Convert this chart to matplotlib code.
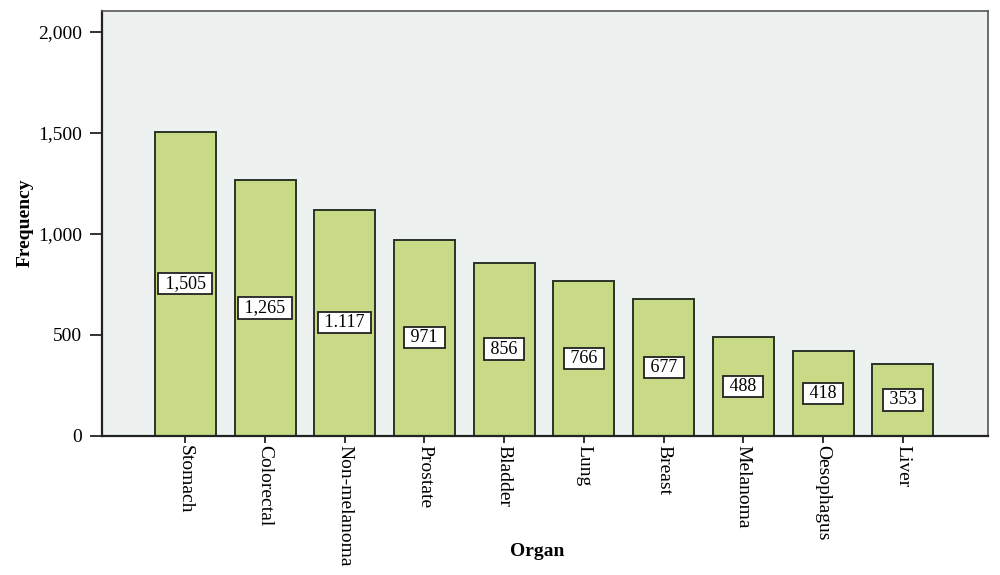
import matplotlib
matplotlib.use("Agg")
import matplotlib.pyplot as plt

organs = ["Stomach", "Colorectal", "Non-melanoma", "Prostate", "Bladder",
          "Lung", "Breast", "Melanoma", "Oesophagus", "Liver"]
frequency = [1505, 1265, 1117, 971, 856, 766, 677, 488, 418, 353]
# as printed on the chart (one uses a dot)
bar_labels = ["1,505", "1,265", "1.117", "971", "856", "766", "677", "488", "418", "353"]
y_ticks = [0, 500, 1000, 1500, 2000]
y_tick_labels = ["0", "500", "1,000", "1,500", "2,000"]

plt.rcParams['font.family'] = ['Liberation Serif', 'DejaVu Serif']

fig = plt.figure(figsize=(10, 5.75), dpi=100)
ax = fig.add_axes([0.1017, 0.2426, 0.8863, 0.7388])
ax.set_facecolor("#edf1ef")

x = list(range(len(organs)))
ax.bar(x, frequency, width=0.765, color="#c8da85", edgecolor="#2b3328", linewidth=1.4, zorder=2)

for xi, v, lab in zip(x, frequency, bar_labels):
    ax.text(xi, v / 2, f" {lab} ", ha="center", va="center", fontsize=13, zorder=3,
            bbox=dict(boxstyle="square,pad=0.12", facecolor="white", edgecolor="#222222", linewidth=1.3))

ax.set_xlim(-1.05, 10.07)
ax.set_ylim(0, 2105)
ax.set_yticks(y_ticks)
ax.set_yticklabels(y_tick_labels, fontsize=14)
ax.set_xticks(x)
ax.set_xticklabels(organs, rotation=270, fontsize=14, va="top", ha="center")
ax.tick_params(axis="y", length=9, width=1.4, color="#333333", pad=5)
ax.tick_params(axis="x", length=5, width=1.4, color="#333333", pad=2)

for side in ["left", "bottom"]:
    ax.spines[side].set_linewidth(1.6)
    ax.spines[side].set_color("#222222")
for side in ["top", "right"]:
    ax.spines[side].set_linewidth(1.2)
    ax.spines[side].set_color("#555555")

ax.set_ylabel("Frequency", fontsize=14, fontweight="bold")
ax.set_xlabel("Organ", fontsize=14, fontweight="bold")
ax.yaxis.set_label_coords(-0.0865, 0.5)
ax.xaxis.set_label_coords(0.491, -0.2735)
ax.xaxis.label.set_va("center")
ax.yaxis.label.set_va("center")

fig.savefig("out.png", dpi=100)
